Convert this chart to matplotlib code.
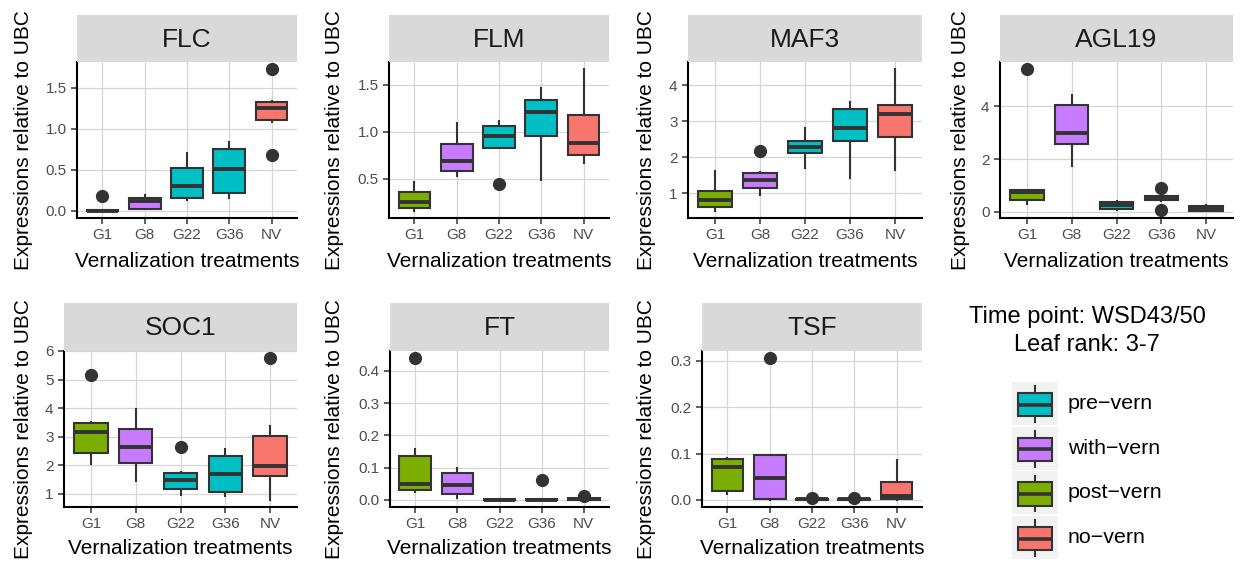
import matplotlib
matplotlib.use("Agg")
import matplotlib.pyplot as plt
from matplotlib.patches import Rectangle
from matplotlib.lines import Line2D

plt.rcParams["font.family"] = ["Liberation Sans", "DejaVu Sans"]

# ---- data -------------------------------------------------------------
treatments = ["G1", "G8", "G22", "G36", "NV"]
groups = ["post-vern", "with-vern", "pre-vern", "pre-vern", "no-vern"]
group_colors = {"pre-vern": "#00BFC4", "with-vern": "#C77CFF",
                "post-vern": "#7CAE00", "no-vern": "#F8766D"}
legend_order = ["pre\u2212vern", "with\u2212vern", "post\u2212vern", "no\u2212vern"]
legend_keys = ["pre-vern", "with-vern", "post-vern", "no-vern"]

# per gene: lower whisker, Q1, median, Q3, upper whisker, outliers
FLC = dict(lo=[0.0, 0.02, 0.13, 0.16, 1.08], q1=[0.0, 0.02, 0.16, 0.22, 1.11],
           med=[0.004, 0.12, 0.30, 0.51, 1.26], q3=[0.008, 0.16, 0.52, 0.76, 1.33],
           hi=[0.012, 0.19, 0.71, 0.84, 1.34],
           out=[[0.18], [], [], [], [1.73, 0.68]])
FLM = dict(lo=[0.16, 0.53, 0.83, 0.49, 0.67], q1=[0.19, 0.58, 0.83, 0.96, 0.75],
           med=[0.255, 0.69, 0.96, 1.215, 0.88], q3=[0.36, 0.875, 1.057, 1.34, 1.18],
           hi=[0.47, 1.09, 1.115, 1.47, 1.667],
           out=[[], [], [0.45], [], []])
MAF3 = dict(lo=[0.51, 0.95, 1.70, 1.43, 1.64], q1=[0.61, 1.15, 2.12, 2.44, 2.55],
            med=[0.82, 1.375, 2.28, 2.82, 3.20], q3=[1.05, 1.55, 2.46, 3.35, 3.45],
            hi=[1.62, 1.60, 2.81, 3.54, 4.45],
            out=[[], [2.18], [], [], []])
AGL19 = dict(lo=[0.30, 1.73, 0.08, 0.40, 0.04], q1=[0.46, 2.58, 0.10, 0.45, 0.05],
             med=[0.74, 3.0, 0.25, 0.50, 0.15], q3=[0.84, 4.06, 0.37, 0.60, 0.23],
             hi=[0.84, 4.43, 0.40, 0.62, 0.25],
             out=[[5.41], [], [], [0.9, 0.07], []])
SOC1 = dict(lo=[2.03, 1.44, 0.96, 0.91, 0.79], q1=[2.44, 2.08, 1.18, 1.08, 1.64],
            med=[3.18, 2.65, 1.50, 1.70, 1.99], q3=[3.48, 3.26, 1.73, 2.34, 3.02],
            hi=[3.50, 3.98, 1.75, 2.56, 3.37],
            out=[[5.16], [], [2.65], [], [5.75]])
FT = dict(lo=[0.025, 0.007, 0.0, 0.0, 0.0], q1=[0.030, 0.017, 0.0005, 0.0005, 0.001],
          med=[0.049, 0.047, 0.001, 0.001, 0.003], q3=[0.135, 0.083, 0.002, 0.002, 0.006],
          hi=[0.158, 0.098, 0.003, 0.003, 0.007],
          out=[[0.44], [], [], [0.062], [0.012]])
TSF = dict(lo=[0.012, 0.0, 0.0, 0.0, 0.0], q1=[0.0195, 0.0015, 0.0005, 0.0005, 0.0015],
           med=[0.070, 0.047, 0.001, 0.001, 0.009], q3=[0.088, 0.097, 0.002, 0.002, 0.0376],
           hi=[0.0897, 0.097, 0.003, 0.003, 0.087],
           out=[[], [0.306], [0.005], [0.005], []])

genes = ["FLC", "FLM", "MAF3", "AGL19", "SOC1", "FT", "TSF"]
gene_data = [FLC, FLM, MAF3, AGL19, SOC1, FT, TSF]
gene_yticks = [[0.0, 0.5, 1.0, 1.5], [0.5, 1.0, 1.5], [1, 2, 3, 4], [0, 2, 4],
               [1, 2, 3, 4, 5, 6], [0.0, 0.1, 0.2, 0.3, 0.4], [0.0, 0.1, 0.2, 0.3]]
gene_yfmt = ["{:.1f}", "{:.1f}", "{:.0f}", "{:.0f}", "{:.0f}", "{:.1f}", "{:.1f}"]

# ---- layout (pixel units) --------------------------------------------
W, H = 1242, 562
fig = plt.figure(figsize=(W / 100, H / 100), dpi=100)

rows = [dict(strip_top=15, strip_bot=62, bot=218, xlab_y=262),
        dict(strip_top=303, strip_bot=351, bot=507, xlab_y=548)]
panel_left = [77, 389, 688, 1000, 64, 390, 702]
panel_right = [297, 609, 922, 1233, 297, 609, 922]
ylab_x = [24, 335, 646, 960, 24, 335, 647]

INK = "#333333"
GRID = "#D6D6D6"
TITLE_FS = 15
TICK_FS = 11
STRIP_FS = 19


def add_px_axes(left, right, top, bottom):
    return fig.add_axes([left / W, 1 - bottom / H, (right - left) / W, (bottom - top) / H])


for i, (gene, d) in enumerate(zip(genes, gene_data)):
    r = rows[i // 4]
    l, rt = panel_left[i], panel_right[i]
    ax = add_px_axes(l, rt, r["strip_bot"], r["bot"])

    stats = []
    for k in range(len(treatments)):
        stats.append(dict(med=d["med"][k], q1=d["q1"][k], q3=d["q3"][k],
                          whislo=d["lo"][k], whishi=d["hi"][k], fliers=d["out"][k]))
    bp = ax.bxp(stats, positions=range(1, len(treatments) + 1), widths=0.75,
                patch_artist=True, showcaps=False,
                boxprops=dict(edgecolor=INK, linewidth=1.5),
                medianprops=dict(color=INK, linewidth=2.8, solid_capstyle="butt"),
                whiskerprops=dict(color=INK, linewidth=1.5),
                flierprops=dict(marker="o", markerfacecolor=INK, markeredgecolor=INK,
                                markersize=8.5))
    for patch, g in zip(bp["boxes"], groups):
        patch.set_facecolor(group_colors[g])

    vals = d["lo"] + d["hi"] + [v for o in d["out"] for v in o]
    vmin, vmax = min(vals), max(vals)
    pad = 0.05 * (vmax - vmin)
    ax.set_ylim(vmin - pad, vmax + pad)
    ax.set_xlim(0.4, len(treatments) + 0.6)

    ax.set_xticks(range(1, len(treatments) + 1))
    ax.set_xticklabels(treatments)
    ax.set_yticks(gene_yticks[i])
    ax.set_yticklabels([gene_yfmt[i].format(t) for t in gene_yticks[i]])
    ax.tick_params(axis="both", colors=INK, labelcolor="#4D4D4D", labelsize=TICK_FS,
                   length=4.5, width=1.1, pad=3)
    ax.grid(True, color=GRID, linewidth=0.9)
    ax.set_axisbelow(True)
    for s in ("top", "right"):
        ax.spines[s].set_visible(False)
    for s in ("left", "bottom"):
        ax.spines[s].set_color("black")
        ax.spines[s].set_linewidth(1.5)

    sax = add_px_axes(l, rt, r["strip_top"], r["strip_bot"])
    sax.set_facecolor("#D9D9D9")
    sax.set_xticks([])
    sax.set_yticks([])
    for s in sax.spines.values():
        s.set_visible(False)
    sax.text(0.5, 0.47, gene, ha="center", va="center", fontsize=STRIP_FS,
             color="#1A1A1A", transform=sax.transAxes)

    fig.text(ylab_x[i] / W, 1 - (r["strip_bot"] + r["bot"]) / 2 / H,
             "Expressions relative to UBC", rotation=90, ha="center", va="center",
             fontsize=TITLE_FS, color="black")
    fig.text((l + rt) / 2 / W, 1 - r["xlab_y"] / H, "Vernalization treatments",
             ha="center", va="center", fontsize=TITLE_FS, color="black")

# ---- legend -----------------------------------------------------------
lax = fig.add_axes([0, 0, 1, 1], facecolor="none")
lax.set_xlim(0, W)
lax.set_ylim(H, 0)
lax.axis("off")

lax.text(1087, 317, "Time point: WSD43/50", ha="center", va="center", fontsize=17)
lax.text(1087, 345, "Leaf rank: 3-7", ha="center", va="center", fontsize=17)

key_x0, key_w, key_h = 1012, 46, 43
for j, (lab, key) in enumerate(zip(legend_order, legend_keys)):
    top = 382 + j * 44.7
    lax.add_patch(Rectangle((key_x0, top), key_w, key_h, facecolor="#F2F2F2",
                            edgecolor="none"))
    cx = key_x0 + key_w / 2
    lax.add_line(Line2D([cx, cx], [top + 4.3, top + 11], color=INK, linewidth=1.5))
    lax.add_line(Line2D([cx, cx], [top + 34.3, top + 40], color=INK, linewidth=1.5))
    lax.add_patch(Rectangle((key_x0 + 5.7, top + 11), key_w - 11.4, 23.3,
                            facecolor=group_colors[key], edgecolor=INK, linewidth=1.5))
    lax.add_line(Line2D([key_x0 + 5.7, key_x0 + key_w - 5.7], [top + 22.7, top + 22.7],
                        color=INK, linewidth=2.6, solid_capstyle="butt"))
    lax.text(1068, top + key_h / 2, lab, ha="left", va="center", fontsize=15.4)

fig.savefig("out.png", dpi=100)
